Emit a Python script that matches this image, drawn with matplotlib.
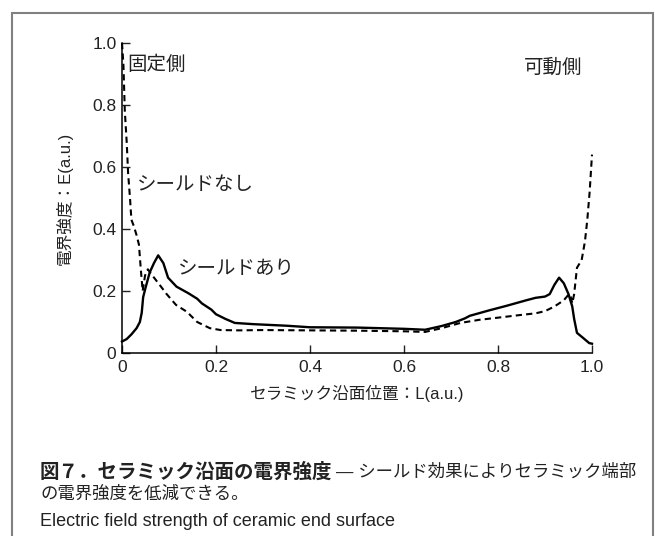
import matplotlib
matplotlib.use("Agg")
import matplotlib.pyplot as plt
from matplotlib.patches import Rectangle

plt.rcParams['font.family'] = ['Liberation Sans', 'Noto Sans CJK JP', 'DejaVu Sans']

# シールドあり (solid)
x_shield = [0.0, 0.01, 0.02, 0.031, 0.038, 0.042, 0.045, 0.05, 0.059, 0.068, 0.077,
            0.088, 0.098, 0.116, 0.141, 0.16, 0.17, 0.19, 0.2, 0.22, 0.24, 0.28,
            0.35, 0.4, 0.5, 0.6, 0.645, 0.68, 0.71, 0.73, 0.74, 0.78, 0.82, 0.86,
            0.88, 0.9, 0.91, 0.92, 0.93, 0.94, 0.95, 0.958, 0.962, 0.968, 0.98,
            0.994, 1.0]
e_shield = [0.037, 0.045, 0.06, 0.08, 0.1, 0.13, 0.18, 0.21, 0.26, 0.29, 0.315,
            0.29, 0.243, 0.214, 0.193, 0.175, 0.16, 0.14, 0.125, 0.11, 0.097, 0.093,
            0.088, 0.083, 0.082, 0.078, 0.075, 0.087, 0.1, 0.112, 0.12, 0.137, 0.153, 0.17,
            0.178, 0.182, 0.19, 0.22, 0.243, 0.225, 0.19, 0.15, 0.11, 0.065, 0.05,
            0.032, 0.03]

# シールドなし (dashed)
x_none = [0.0, 0.003, 0.006, 0.01, 0.013, 0.017, 0.02, 0.025, 0.031, 0.036, 0.04,
          0.044, 0.049, 0.055, 0.062, 0.08, 0.095, 0.115, 0.138, 0.16, 0.187, 0.21,
          0.25, 0.3, 0.4, 0.5, 0.6, 0.645, 0.68, 0.72, 0.76, 0.8, 0.85, 0.88, 0.9,
          0.92, 0.94, 0.951, 0.955, 0.958, 0.962, 0.968, 0.978, 0.985, 0.99, 0.995, 1.0]
e_none = [1.0, 0.93, 0.78, 0.68, 0.58, 0.5, 0.43, 0.41, 0.38, 0.35, 0.27,
          0.2, 0.25, 0.27, 0.255, 0.22, 0.19, 0.155, 0.133, 0.1, 0.08, 0.074,
          0.073, 0.074, 0.073, 0.072, 0.07, 0.068, 0.08, 0.097, 0.107, 0.114, 0.123, 0.128, 0.135,
          0.15, 0.17, 0.19, 0.18, 0.16, 0.19, 0.275, 0.3, 0.36, 0.43, 0.52, 0.64]

ticks = [0, 0.2, 0.4, 0.6, 0.8, 1.0]
tick_labels = ['0', '0.2', '0.4', '0.6', '0.8', '1.0']

fig = plt.figure(figsize=(6.55, 5.36), dpi=100)
ax = fig.add_axes([122 / 655, 1 - 353 / 536, 470 / 655, 310 / 536])

ax.plot(x_shield, e_shield, color='black', lw=1.7, clip_on=False)
ax.plot(x_none, e_none, color='black', lw=1.5, ls=(0, (3, 2)), clip_on=False)

ax.set_xlim(0, 1.0)
ax.set_ylim(0, 1.0)
ax.set_xticks(ticks)
ax.set_xticklabels(tick_labels)
ax.set_yticks(ticks)
ax.set_yticklabels(tick_labels)
ax.tick_params(direction='in', length=6, width=1, labelsize=12.5, colors='#222222')
ax.tick_params(axis='x', pad=5)
ax.tick_params(axis='y', pad=4)
for s in ['top', 'right']:
    ax.spines[s].set_visible(False)
for s in ['left', 'bottom']:
    ax.spines[s].set_linewidth(1.1)

ax.set_xlabel('セラミック沿面位置：L(a.u.)', fontsize=12, labelpad=7, color='#222222')
ax.set_ylabel('電界強度：E(a.u.)', fontsize=12, labelpad=14, color='#222222')

ax.text(0.012, 0.93, '固定側', fontsize=14, va='center', ha='left', color='#222222')
ax.text(0.98, 0.92, '可動側', fontsize=14, va='center', ha='right', color='#222222')
ax.text(0.032, 0.54, 'シールドなし', fontsize=14, va='center', ha='left', color='#222222')
ax.text(0.12, 0.27, 'シールドあり', fontsize=14, va='center', ha='left', color='#222222')

# caption
fig.text(40 / 655, 1 - 472 / 536, '図７．セラミック沿面の電界強度', fontsize=14,
         fontweight='bold', va='center', ha='left', color='#222222')
fig.text(336 / 655, 1 - 472 / 536, '— シールド効果によりセラミック端部', fontsize=12.5,
         va='center', ha='left', color='#222222')
fig.text(40 / 655, 1 - 494 / 536, 'の電界強度を低減できる。', fontsize=12.5,
         va='center', ha='left', color='#222222')
fig.text(40 / 655, 1 - 521 / 536, 'Electric field strength of ceramic end surface',
         fontsize=13, va='center', ha='left', color='#222222')

# outer frame
fig.patches.append(Rectangle((12 / 655, -0.05), (653 - 12) / 655, 1.05 - 13 / 536,
                             transform=fig.transFigure, fill=False,
                             edgecolor='#808080', lw=1.5))

fig.savefig('out.png', dpi=100)
